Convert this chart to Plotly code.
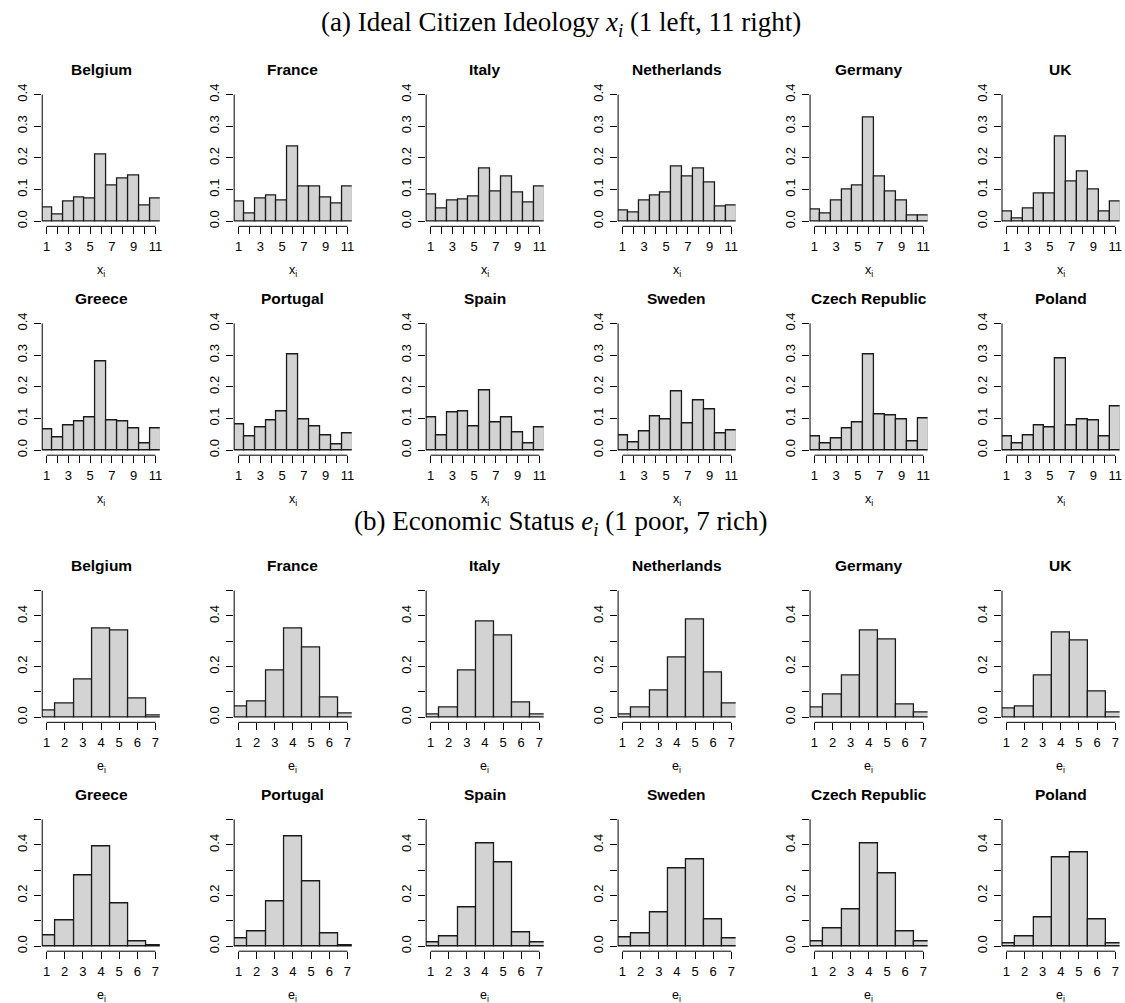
import plotly.graph_objects as go

# ---------------- data ----------------
countries = ["Belgium", "France", "Italy", "Netherlands", "Germany", "UK",
             "Greece", "Portugal", "Spain", "Sweden", "Czech Republic", "Poland"]

ideology_bins = [1, 2, 3, 4, 5, 6, 7, 8, 9, 10, 11]
ideology_labeled_ticks = [1, 3, 5, 7, 9, 11]
ideology_tick_labels = ["1", "3", "5", "7", "9", "11"]
ideology_unlabeled_ticks = [2, 4, 6, 8, 10]

status_bins = [1, 2, 3, 4, 5, 6, 7]
status_labeled_ticks = [1, 2, 3, 4, 5, 6, 7]
status_tick_labels = ["1", "2", "3", "4", "5", "6", "7"]
status_unlabeled_ticks = []

ideology_y_ticks = [0.0, 0.1, 0.2, 0.3, 0.4]
ideology_y_labels = ["0.0", "0.1", "0.2", "0.3", "0.4"]
ideology_y_minor = []
status_y_ticks = [0.0, 0.2, 0.4]
status_y_labels = ["0.0", "0.2", "0.4"]
status_y_minor = [0.1, 0.3, 0.5]
ideology_y_axis_top = 0.4
status_y_axis_top = 0.5

# (a) ideology densities, bins 1..11
ideo_belgium = [0.043, 0.022, 0.063, 0.075, 0.072, 0.211, 0.114, 0.136, 0.146, 0.050, 0.072]
ideo_france = [0.062, 0.025, 0.071, 0.081, 0.064, 0.236, 0.110, 0.110, 0.076, 0.056, 0.111]
ideo_italy = [0.086, 0.040, 0.064, 0.069, 0.078, 0.166, 0.095, 0.142, 0.092, 0.060, 0.111]
ideo_netherlands = [0.035, 0.029, 0.064, 0.080, 0.091, 0.173, 0.142, 0.166, 0.123, 0.047, 0.050]
ideo_germany = [0.036, 0.026, 0.064, 0.101, 0.113, 0.327, 0.140, 0.093, 0.064, 0.018, 0.018]
ideo_uk = [0.032, 0.010, 0.039, 0.088, 0.088, 0.269, 0.124, 0.158, 0.100, 0.032, 0.062]
ideo_greece = [0.066, 0.040, 0.079, 0.091, 0.103, 0.279, 0.094, 0.092, 0.070, 0.020, 0.068]
ideo_portugal = [0.081, 0.044, 0.071, 0.093, 0.122, 0.301, 0.097, 0.074, 0.047, 0.019, 0.054]
ideo_spain = [0.104, 0.048, 0.119, 0.122, 0.076, 0.188, 0.089, 0.103, 0.057, 0.020, 0.071]
ideo_sweden = [0.047, 0.024, 0.058, 0.105, 0.097, 0.185, 0.083, 0.158, 0.130, 0.053, 0.063]
ideo_czech = [0.042, 0.022, 0.038, 0.068, 0.088, 0.301, 0.114, 0.110, 0.097, 0.028, 0.100]
ideo_poland = [0.044, 0.021, 0.045, 0.078, 0.073, 0.290, 0.078, 0.097, 0.094, 0.044, 0.138]

# (b) economic status densities, bins 1..7
econ_belgium = [0.027, 0.056, 0.149, 0.350, 0.342, 0.073, 0.007]
econ_france = [0.043, 0.063, 0.186, 0.350, 0.275, 0.077, 0.014]
econ_italy = [0.012, 0.039, 0.183, 0.376, 0.322, 0.060, 0.012]
econ_netherlands = [0.009, 0.037, 0.107, 0.234, 0.386, 0.176, 0.055]
econ_germany = [0.038, 0.088, 0.163, 0.342, 0.307, 0.050, 0.017]
econ_uk = [0.034, 0.044, 0.166, 0.335, 0.302, 0.102, 0.018]
econ_greece = [0.043, 0.102, 0.281, 0.392, 0.170, 0.018, 0.003]
econ_portugal = [0.030, 0.060, 0.175, 0.433, 0.256, 0.050, 0.003]
econ_spain = [0.013, 0.037, 0.152, 0.407, 0.331, 0.054, 0.013]
econ_sweden = [0.033, 0.051, 0.133, 0.305, 0.342, 0.107, 0.030]
econ_czech = [0.020, 0.069, 0.144, 0.407, 0.288, 0.060, 0.020]
econ_poland = [0.012, 0.037, 0.115, 0.350, 0.370, 0.106, 0.009]

ideology_values = [ideo_belgium, ideo_france, ideo_italy, ideo_netherlands, ideo_germany, ideo_uk,
                   ideo_greece, ideo_portugal, ideo_spain, ideo_sweden, ideo_czech, ideo_poland]
status_values = [econ_belgium, econ_france, econ_italy, econ_netherlands, econ_germany, econ_uk,
                 econ_greece, econ_portugal, econ_spain, econ_sweden, econ_czech, econ_poland]

title_a = "(a) Ideal Citizen Ideology <i>x<sub>i</sub></i> (1 left, 11 right)"
title_b = "(b) Economic Status <i>e<sub>i</sub></i> (1 poor, 7 rich)"

# ---------------- layout geometry (pixels) ----------------
W, H = 1125, 1003
col_left0, col_step, plot_w = 42.3, 192.3, 117.8
row_tops = [84.2, 314.9, 584.2, 814.9]
plot_h = 137.9

SANS = "Liberation Sans, Arial, Helvetica, sans-serif"
SERIF = "Liberation Serif, Times New Roman, serif"

fig = go.Figure()
annotations = []
shapes = []


def px_x(p):
    return p / W


def px_y(p):
    return 1 - p / H


n = 0
for section in range(2):
    if section == 0:
        bins, xt, xl, xm = ideology_bins, ideology_labeled_ticks, ideology_tick_labels, ideology_unlabeled_ticks
        yt, yl, ym, ytop = ideology_y_ticks, ideology_y_labels, ideology_y_minor, ideology_y_axis_top
        data, xlabel = ideology_values, "x<sub>i</sub>"
    else:
        bins, xt, xl, xm = status_bins, status_labeled_ticks, status_tick_labels, status_unlabeled_ticks
        yt, yl, ym, ytop = status_y_ticks, status_y_labels, status_y_minor, status_y_axis_top
        data, xlabel = status_values, "e<sub>i</sub>"
    yrange = [-0.04 * ytop, ytop * 1.04]
    span = bins[-1] - bins[0]
    xrange = [bins[0] - 0.04 * span, bins[-1] + 0.04 * span]
    for i, country in enumerate(countries):
        n += 1
        r = section * 2 + i // 6
        c = i % 6
        left = col_left0 + col_step * c
        top = row_tops[r]
        bottom = top + plot_h
        xa = "x" if n == 1 else f"x{n}"
        ya = "y" if n == 1 else f"y{n}"
        fig.add_trace(go.Bar(
            x=bins, y=data[i], width=1, xaxis=xa, yaxis=ya, showlegend=False,
            marker=dict(color="#D3D3D3", line=dict(color="#1a1a1a", width=1.3)),
            hoverinfo="x+y"))
        xkey = "xaxis" if n == 1 else f"xaxis{n}"
        ykey = "yaxis" if n == 1 else f"yaxis{n}"
        xaxis = dict(domain=[px_x(left), px_x(left + plot_w)], anchor=ya, range=xrange,
                     tickmode="array", tickvals=xt, ticktext=xl, ticks="outside",
                     ticklen=7, tickwidth=1, tickcolor="black", showline=False,
                     showgrid=False, zeroline=False, fixedrange=True,
                     tickfont=dict(family=SANS, size=13, color="black"),
                     ticklabelstandoff=1)
        if xm:
            xaxis["minor"] = dict(tickmode="array", tickvals=xm, ticks="outside", ticklen=7,
                                  tickwidth=1, tickcolor="black", showgrid=False)
        yaxis = dict(domain=[px_y(bottom), px_y(top)], anchor=xa, range=yrange,
                     tickmode="array", tickvals=yt, ticktext=yl, ticks="outside",
                     ticklen=7, tickwidth=1, tickcolor="black", showline=False,
                     showgrid=False, zeroline=False, tickangle=-90, fixedrange=True,
                     tickfont=dict(family=SANS, size=13, color="black"),
                     ticklabelstandoff=2)
        if ym:
            yaxis["minor"] = dict(tickmode="array", tickvals=ym, ticks="outside", ticklen=7,
                                  tickwidth=1, tickcolor="black", showgrid=False)
        fig.update_layout({xkey: xaxis, ykey: yaxis})
        # R-style axis lines spanning first to last tick
        shapes.append(dict(type="line", xref=xa, yref=f"{ya} domain",
                           x0=bins[0], x1=bins[-1], y0=0, y1=0,
                           line=dict(color="black", width=1)))
        shapes.append(dict(type="line", xref=f"{xa} domain", yref=ya,
                           x0=0, x1=0, y0=0, y1=ytop,
                           line=dict(color="black", width=1)))
        # panel title
        annotations.append(dict(text=f"<b>{country}</b>", xref="paper", yref="paper",
                                x=px_x(left + plot_w / 2), y=px_y(top - 20),
                                xanchor="center", yanchor="middle", showarrow=False,
                                font=dict(family=SANS, size=15.5, color="black")))
        # x label
        annotations.append(dict(text=xlabel, xref="paper", yref="paper",
                                x=px_x(left + plot_w / 2), y=px_y(bottom + 45),
                                xanchor="center", yanchor="middle", showarrow=False,
                                font=dict(family=SANS, size=12.5, color="black")))

annotations.append(dict(text=title_a, xref="paper", yref="paper", x=px_x(562), y=px_y(18),
                        xanchor="center", yanchor="middle", showarrow=False,
                        font=dict(family=SERIF, size=27, color="black")))
annotations.append(dict(text=title_b, xref="paper", yref="paper", x=px_x(562), y=px_y(521),
                        xanchor="center", yanchor="middle", showarrow=False,
                        font=dict(family=SERIF, size=27, color="black")))

fig.update_layout(width=W, height=H, margin=dict(l=0, r=0, t=0, b=0),
                  paper_bgcolor="white", plot_bgcolor="white",
                  annotations=annotations, shapes=shapes, bargap=0)

fig.write_html("out.html")
